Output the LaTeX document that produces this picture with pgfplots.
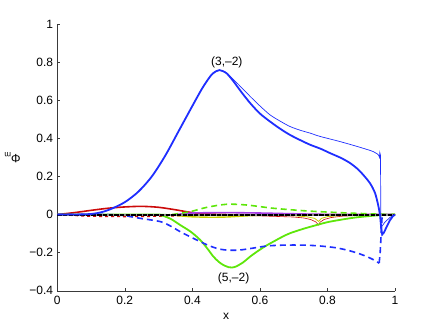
\documentclass[border=0pt]{standalone}
\usepackage{fontspec}
\setmainfont{Liberation Sans}
\usepackage{pgfplots}
\pgfplotsset{compat=1.18}
\definecolor{mblue}{HTML}{1F2EFF}
\definecolor{mgreen}{HTML}{5EE60A}
\definecolor{mred}{HTML}{CC0A0A}
\definecolor{mpurple}{HTML}{A640E6}
\definecolor{myellow}{HTML}{C8D200}
\definecolor{maxis}{HTML}{3A3A3A}
\begin{document}
\begin{tikzpicture}
\fontsize{12}{14}\selectfont
\begin{axis}[
  name=ax,
  scale only axis,
  width=338pt, height=267pt,
  xmin=0, xmax=1, ymin=-0.4, ymax=1,
  axis x line*=bottom, axis y line*=left,
  axis line style={-, maxis, line width=0.5pt},
  tick style={maxis, line width=0.5pt},
  tick align=inside,
  major tick length=3pt,
  xtick={0,0.2,0.4,0.6,0.8,1},
  xticklabels={0,0.2,0.4,0.6,0.8,1},
  ytick={-0.4,-0.2,0,0.2,0.4,0.6,0.8,1},
  yticklabels={−0.4,−0.2,0,0.2,0.4,0.6,0.8,1},
  tick label style={font=\fontsize{12}{14}\selectfont},
  xticklabel style={yshift=-1pt},
  label style={font=\fontsize{12}{14}\selectfont},
  xlabel={x},
  ylabel={Φ\textsubscript{m}},
  xlabel style={at={(axis description cs:0.5,-0.094)}, anchor=center},
  ylabel style={at={(axis description cs:-0.133,0.5)}, anchor=center, rotate=90},
  every axis plot/.append style={no marks},
  clip=false,
]
% red thick (positive hump)
\addplot[mred, line width=1.6pt, smooth] coordinates {
 (0,0) (0.05,0.01) (0.1,0.022) (0.15,0.033) (0.2,0.04) (0.25,0.043)
 (0.3,0.038) (0.35,0.025) (0.4,0.01) (0.45,0.003) (0.5,0) (0.6,0) (1,0)};
% red dashed
\addplot[mred, line width=1.6pt, dashed, smooth] coordinates {
 (0,0) (0.05,-0.004) (0.1,-0.008) (0.2,-0.01) (0.3,-0.008) (0.4,-0.004) (0.5,0)};
% red thin with cusp
\addplot[mred, line width=0.6pt] coordinates {
 (0.3,0) (0.5,-0.003) (0.6,-0.007) (0.7,-0.013) (0.73,-0.018) (0.75,-0.026)
 (0.765,-0.038) (0.774,-0.055) (0.778,-0.04) (0.79,-0.026) (0.81,-0.016)
 (0.84,-0.009) (0.9,-0.004) (1,0)};
% yellow
\addplot[myellow, line width=1.4pt, smooth] coordinates {
 (0.33,0) (0.37,-0.008) (0.4,-0.012) (0.45,-0.014) (0.5,-0.013) (0.55,-0.008)
 (0.6,-0.004) (0.7,-0.004)};
\addplot[myellow, line width=0.8pt] coordinates {
 (0.7,-0.006) (0.74,-0.012) (0.762,-0.02) (0.774,-0.036) (0.782,-0.02)
 (0.8,-0.011) (0.84,-0.005) (0.9,-0.002) (1,0)};
% purple
\addplot[mpurple, line width=1.6pt, smooth] coordinates {
 (0.35,0) (0.4,0.008) (0.5,0.01) (0.6,0.008) (0.7,0.004) (0.8,0.001) (1,0)};
% green dashed
\addplot[mgreen, line width=1.6pt, dash pattern=on 6pt off 4pt, smooth] coordinates {
 (0.34,0) (0.393,0.015) (0.443,0.038) (0.502,0.054) (0.561,0.05) (0.64,0.033)
 (0.739,0.019) (0.837,0.01) (0.936,0.003) (1,0)};
% green solid (5,-2)
\addplot[mgreen, line width=1.8pt, smooth] coordinates {
 (0,0) (0.28,0) (0.305,-0.003) (0.335,-0.022) (0.364,-0.055) (0.395,-0.09)
 (0.423,-0.133) (0.445,-0.18) (0.462,-0.22) (0.478,-0.248) (0.492,-0.265)
 (0.507,-0.276) (0.517,-0.278) (0.53,-0.272) (0.551,-0.25) (0.57,-0.222)
 (0.591,-0.195) (0.615,-0.167) (0.64,-0.142) (0.665,-0.118) (0.689,-0.098)
 (0.73,-0.074) (0.768,-0.055) (0.8,-0.04) (0.837,-0.028) (0.88,-0.016)
 (0.936,-0.006) (0.97,-0.002) (1,0)};
% blue dashed
\addplot[mblue, line width=1.6pt, dash pattern=on 6pt off 4pt, smooth] coordinates {
 (0,0) (0.15,0) (0.2,-0.006) (0.246,-0.02) (0.305,-0.037) (0.335,-0.06)
 (0.364,-0.09) (0.393,-0.116) (0.423,-0.142) (0.452,-0.165) (0.482,-0.182)
 (0.51,-0.187) (0.541,-0.186) (0.58,-0.176) (0.62,-0.165) (0.66,-0.161)
 (0.699,-0.16) (0.74,-0.161) (0.778,-0.165) (0.82,-0.173) (0.857,-0.186)
 (0.89,-0.203) (0.917,-0.221) (0.935,-0.236) (0.946,-0.247) (0.953,-0.255)};
\addplot[mblue, line width=1.6pt, dash pattern=on 6pt off 4pt] coordinates {
 (0.953,-0.255) (0.956,-0.2) (0.958,-0.133) (0.961,-0.028) (0.963,0)};
% zero line (black, dashed over grey)
\addplot[black!45, line width=2pt] coordinates {(0,0) (1,0)};
\addplot[black, line width=2pt, dash pattern=on 4.5pt off 1.2pt] coordinates {(0,0) (1,0)};
% blue thin
\addplot[mblue, line width=0.7pt, smooth] coordinates {
 (0.43,0.665) (0.455,0.73) (0.47,0.752) (0.48,0.758) (0.49,0.753)
 (0.502,0.742) (0.522,0.708) (0.548,0.662) (0.571,0.62) (0.6,0.57) (0.63,0.523) (0.66,0.49)
 (0.689,0.462) (0.72,0.442) (0.749,0.427) (0.778,0.41) (0.837,0.383)
 (0.896,0.353) (0.936,0.33) (0.951,0.313)};
\addplot[mblue, line width=0.7pt] coordinates {
 (0.951,0.313) (0.954,0.3) (0.955,0.325)
 (0.957,0.31) (0.958,-0.07) (0.962,-0.06) (0.97,-0.04) (0.985,-0.015) (1,0)};
% blue thick (3,-2)
\addplot[mblue, line width=1.8pt, smooth] coordinates {
 (0,0) (0.05,0) (0.1,0.003) (0.13,0.012) (0.16,0.03) (0.2,0.065)
 (0.24,0.12) (0.28,0.2) (0.32,0.31) (0.36,0.44) (0.4,0.57) (0.43,0.665)
 (0.455,0.73) (0.47,0.752) (0.48,0.758) (0.49,0.753) (0.502,0.74)
 (0.52,0.703) (0.545,0.643) (0.571,0.585) (0.6,0.53) (0.63,0.488) (0.66,0.45) (0.689,0.418)
 (0.72,0.39) (0.749,0.366) (0.78,0.345) (0.808,0.322) (0.84,0.297)
 (0.867,0.27) (0.89,0.238) (0.906,0.208) (0.926,0.164) (0.941,0.112)
 (0.951,0.042) (0.956,-0.01)};
\addplot[mblue, line width=1.8pt] coordinates {
 (0.956,-0.01) (0.959,-0.07) (0.962,-0.105) (0.967,-0.095)
 (0.975,-0.065) (0.985,-0.03) (0.993,-0.01) (1,0)};
\node[anchor=center] at (axis cs:0.502,0.80) {(3,–2)};
\node[anchor=center] at (axis cs:0.522,-0.335) {(5,–2)};
\end{axis}
\path ([shift={(-57pt,-37pt)}]ax.south west) rectangle ([shift={(41pt,24pt)}]ax.north east);
\end{tikzpicture}
\end{document}
